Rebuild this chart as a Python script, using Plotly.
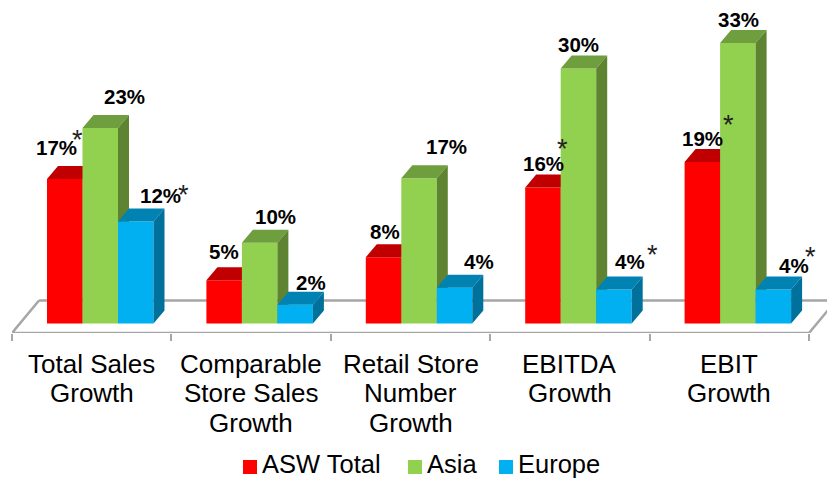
import plotly.graph_objects as go

# ---- data ----
categories = [
    ["Total Sales", "Growth"],
    ["Comparable", "Store Sales", "Growth"],
    ["Retail Store", "Number", "Growth"],
    ["EBITDA", "Growth"],
    ["EBIT", "Growth"],
]
asw_total = [17, 5.1, 7.8, 16, 19]
asia = [23, 9.5, 17.1, 30, 33]
europe = [12, 2.2, 4.2, 4, 4]
asw_labels = ["17%", "5%", "8%", "16%", "19%"]
asia_labels = ["23%", "10%", "17%", "30%", "33%"]
europe_labels = ["12%", "2%", "4%", "4%", "4%"]

# ---- layout constants ----
W, H = 827, 478
ML, PB = 12, 333            # left edge and bottom edge of plot, px
PX_X = 159.4                # px per category
PX_Y = 8.5                  # px per percent
ZERO_PX = 323.5
XMAX = (W - ML) / PX_X
YMIN = (ZERO_PX - PB) / PX_Y
YMAX = ZERO_PX / PX_Y
BAR_W = 35.5 / PX_X
GROUP_OFF = 35 / PX_X
DX = 11 / PX_X
DY = 13 / PX_Y
FONT = "Liberation Sans"
series = [
    ("ASW Total", asw_total, asw_labels, "#FF0000", "#C00000", "#A00000"),
    ("Asia", asia, asia_labels, "#92D050", "#6F9E3E", "#5F8431"),
    ("Europe", europe, europe_labels, "#00B0F0", "#0083B3", "#00719B"),
]

# label centres (px), same order as the series above
label_px = [
    [(56, 147), (224, 251), (385, 231), (543, 163), (702, 138)],
    [(124, 96), (275, 216), (446, 146), (578, 45), (738, 20)],
    [(160, 195), (311, 282), (479, 261), (630, 261), (794, 265)],
]
star_px = [(77, 135), (183, 190), (562, 144), (652, 250), (728, 120), (810, 252)]
line_px = [364, 393, 423]
legend_px = [(243, 257, 262), (408, 422, 427), (499, 513, 518)]


def paper(px, py):
    return (px - ML) / (W - ML), (PB - py) / PB


fig = go.Figure()

for k, (name, vals, _, front, top, side) in enumerate(series):
    suffix = "" if k == 0 else str(k + 1)
    xa, ya = "x" + suffix, "y" + suffix
    xs = list(range(len(vals)))
    off = GROUP_OFF + k * BAR_W
    fig.add_trace(go.Bar(x=xs, y=vals, name=name, width=BAR_W, offset=off,
                         marker=dict(color=front, line=dict(width=0)),
                         xaxis=xa, yaxis=ya, showlegend=False))
    top_x, top_y, side_x, side_y = [], [], [], []
    for i, v in zip(xs, vals):
        l, r = i + off, i + off + BAR_W
        top_x += [l, l + DX, r + DX, r, None]
        top_y += [v, v + DY, v + DY, v, None]
        side_x += [r, r + DX, r + DX, r, None]
        side_y += [0, DY, v + DY, v, None]
    for px_, py_, c in ((top_x, top_y, top), (side_x, side_y, side)):
        fig.add_trace(go.Scatter(x=px_, y=py_, mode="lines", fill="toself",
                                 fillcolor=c, line=dict(width=0, color=c),
                                 hoverinfo="skip", showlegend=False,
                                 xaxis=xa, yaxis=ya))

annotations = []
for (name, vals, labels, *_), pos in zip(series, label_px):
    for t, (px, py) in zip(labels, pos):
        ax, ay = paper(px, py)
        annotations.append(dict(x=ax, y=ay, xref="paper", yref="paper", text=f"<b>{t}</b>",
                                xanchor="center", yanchor="middle",
                                showarrow=False, font=dict(family=FONT, size=20.5, color="#000000")))
for px, py in star_px:
    ax, ay = paper(px, py + 5)
    annotations.append(dict(x=ax, y=ay, xref="paper", yref="paper", text="*",
                            xanchor="center", yanchor="middle",
                            showarrow=False, font=dict(family=FONT, size=27, color="#222222")))
for i, lines in enumerate(categories):
    for line, py in zip(lines, line_px):
        _, ay = paper(0, py)
        annotations.append(dict(x=i + 0.5, y=ay, xref="x", yref="paper", text=line,
                                xanchor="center", yanchor="middle",
                                showarrow=False, font=dict(family=FONT, size=26, color="#000000")))
shapes = []
for (name, _, _, front, _, _), (x0, x1, tx) in zip(series, legend_px):
    ax0, ay0 = paper(x0, 474)
    ax1, ay1 = paper(x1, 460)
    shapes.append(dict(type="rect", xref="paper", yref="paper", x0=ax0, x1=ax1, y0=ay0, y1=ay1,
                       fillcolor=front, line=dict(width=0)))
    ax, ay = paper(tx, 464)
    annotations.append(dict(x=ax, y=ay, xref="paper", yref="paper", text=name,
                            xanchor="left", yanchor="middle", borderpad=0, borderwidth=0,
                            showarrow=False,
                            font=dict(family=FONT, size=25.5, color="#000000")))

# floor of the 3D chart
fy_front = (ZERO_PX - 333) / PX_Y
fy_back = (ZERO_PX - 300.5) / PX_Y
fx_d = 27 / PX_X
GREY = "#A6A6A6"
floor = (f"M {fx_d},{fy_back} L 0,{fy_front} L 5,{fy_front} L {5 + fx_d},{fy_back} "
         f"M {fx_d},{fy_back} L {XMAX + 1},{fy_back}")
shapes.append(dict(type="path", xref="x", yref="y", path=floor, layer="below",
                   line=dict(color=GREY, width=2.5)))

axis_common = dict(range=[0, XMAX], showgrid=False, zeroline=False, fixedrange=True)
yaxis_common = dict(range=[YMIN, YMAX], showgrid=False, zeroline=False, visible=False, fixedrange=True)
fig.update_layout(
    width=W, height=H, autosize=False,
    margin=dict(l=ML, r=0, t=0, b=H - PB, pad=0),
    plot_bgcolor="#FFFFFF", paper_bgcolor="#FFFFFF",
    barmode="overlay", showlegend=False,
    font=dict(family=FONT),
    xaxis=dict(**axis_common, tickvals=[0, 1, 2, 3, 4, 5], ticks="outside", ticklen=7,
               tickwidth=2, tickcolor=GREY, showticklabels=False, showline=False),
    yaxis=yaxis_common,
    xaxis2=dict(**axis_common, overlaying="x", visible=False),
    yaxis2=dict(**yaxis_common, overlaying="y"),
    xaxis3=dict(**axis_common, overlaying="x", visible=False),
    yaxis3=dict(**yaxis_common, overlaying="y"),
    annotations=annotations, shapes=shapes,
)
fig.write_html("out.html", config={"displayModeBar": False},
               post_script="document.body.style.margin='0';")
